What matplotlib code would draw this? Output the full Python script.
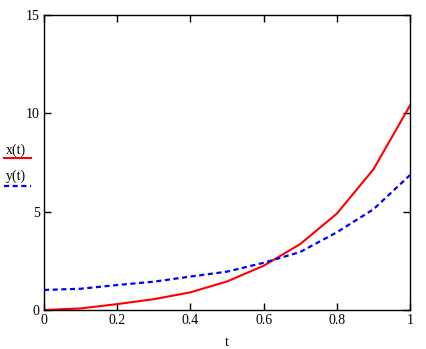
import matplotlib
matplotlib.use("Agg")
import matplotlib.pyplot as plt
from matplotlib.lines import Line2D

t = [0.0, 0.1, 0.2, 0.3, 0.4, 0.5, 0.6, 0.7, 0.8, 0.9, 1.0]
x_vals = [0.0, 0.08, 0.3, 0.55, 0.9, 1.45, 2.25, 3.35, 4.9, 7.15, 10.4]
y_vals = [1.02, 1.08, 1.27, 1.44, 1.7, 1.95, 2.4, 2.95, 3.95, 5.12, 6.86]
x_ticks = [0, 0.2, 0.4, 0.6, 0.8, 1]
x_tick_labels = ["0", "0.2", "0.4", "0.6", "0.8", "1"]
y_ticks = [0, 5, 10, 15]
y_tick_labels = ["0", "5", "10", "15"]

plt.rcParams['font.family'] = ['Liberation Serif', 'DejaVu Serif']

dotted = (0, (2.3, 1.6))

fig = plt.figure(figsize=(4.26, 3.49), dpi=100)
ax = fig.add_axes([44/426, 1-310/349, 366/426, 295/349])

ax.plot(t, x_vals, color='#ff0000', lw=1.5)
ax.plot(t, y_vals, color='#0000ff', lw=1.6, linestyle=dotted)

ax.set_xlim(0, 1)
ax.set_ylim(0, 15)
ax.set_xticks(x_ticks)
ax.set_xticklabels(x_tick_labels)
ax.set_yticks(y_ticks)
ax.set_yticklabels(y_tick_labels)
ax.tick_params(direction='in', length=5, width=1, top=True, right=True,
               labelsize=10, colors='black', pad=3)
for s in ax.spines.values():
    s.set_linewidth(1.0)
    s.set_color('black')

ax.set_xlabel('t', fontsize=10, labelpad=6)

# legend at the left margin
fig.text(6/426, 1-150/349, 'x(t)', fontsize=10, va='center', ha='left')
fig.add_artist(Line2D([4/426, 31/426], [1-158/349, 1-158/349],
                      color='#ff0000', lw=1.5, transform=fig.transFigure))
fig.text(6/426, 1-176/349, 'y(t)', fontsize=10, va='center', ha='left')
fig.add_artist(Line2D([4/426, 31/426], [1-186/349, 1-186/349],
                      color='#0000ff', lw=1.6, linestyle=dotted,
                      transform=fig.transFigure))

fig.savefig('out.png', dpi=100)
